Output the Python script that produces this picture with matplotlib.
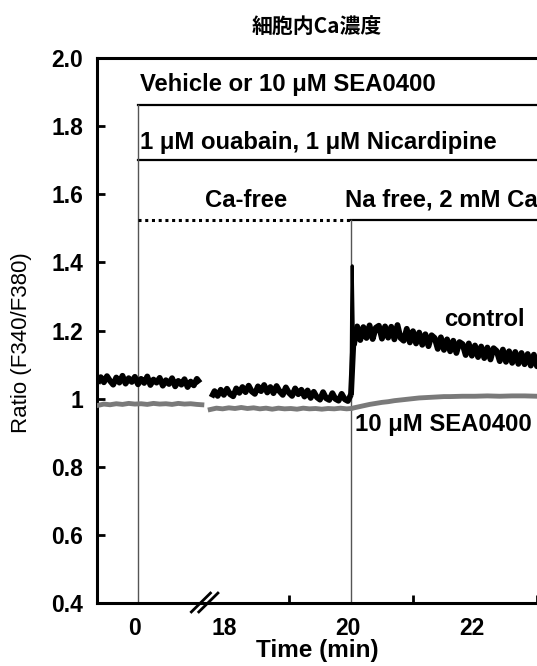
import numpy as np
import matplotlib
matplotlib.use("Agg")
import matplotlib.pyplot as plt
import matplotlib.transforms as mtransforms

plt.rcParams['font.family'] = ['Liberation Sans', 'DejaVu Sans']

# ---------------- data (real time, min) ----------------
# control trace, before the axis break (0.05 min sampling from -0.65)
ctrl_seg1 = [1.045, 1.063, 1.048, 1.066, 1.052, 1.041, 1.062, 1.047, 1.067, 1.044,
             1.060, 1.049, 1.064, 1.042, 1.058, 1.046, 1.065, 1.040, 1.056, 1.047,
             1.061, 1.038, 1.054, 1.043, 1.060, 1.036, 1.052, 1.041, 1.057, 1.034,
             1.050, 1.039, 1.058, 1.046]
t_seg1 = np.linspace(-0.65, 1.00, len(ctrl_seg1))

sea_t1 = [-0.65, -0.55, -0.45, -0.35, -0.25, -0.15, -0.05, 0.05, 0.15, 0.25,
          0.35, 0.45, 0.55, 0.65, 0.75, 0.85, 0.95, 1.03]
sea_seg1 = [0.980, 0.984, 0.982, 0.985, 0.983, 0.986, 0.984, 0.985, 0.983, 0.986,
            0.984, 0.985, 0.983, 0.986, 0.984, 0.985, 0.983, 0.982]

# control trace, 17.75 - 20.00 min
ctrl_seg2 = [1.004, 1.022, 1.008, 1.026, 1.011, 1.029, 1.013, 1.007, 1.030, 1.017,
             1.034, 1.019, 1.038, 1.021, 1.014, 1.036, 1.022, 1.040, 1.018, 1.034,
             1.016, 1.037, 1.021, 1.011, 1.033, 1.017, 1.008, 1.030, 1.013, 1.026,
             1.006, 1.024, 1.002, 1.020, 1.004, 0.997, 1.019, 1.001, 0.996, 1.016,
             0.999, 0.994, 1.014, 0.998, 0.993, 1.012]
t_seg2 = np.linspace(17.75, 20.00, len(ctrl_seg2))

sea_t2 = [17.73, 17.83, 17.93, 18.03, 18.13, 18.23, 18.33, 18.43, 18.53, 18.63,
          18.73, 18.83, 18.93, 19.03, 19.13, 19.23, 19.33, 19.43, 19.53, 19.63,
          19.73, 19.83, 19.93, 20.00]
sea_seg2 = [0.968, 0.972, 0.970, 0.973, 0.971, 0.974, 0.971, 0.973, 0.970, 0.972,
            0.969, 0.972, 0.970, 0.971, 0.969, 0.972, 0.970, 0.971, 0.969, 0.971,
            0.970, 0.972, 0.970, 0.971]

# transient spike on switching to Na-free solution
spike_t = [20.00, 20.01, 20.02, 20.03, 20.04]
spike_v = [1.010, 1.260, 1.390, 1.280, 1.170]

# control trace, 20.05 - 23.20 min
ctrl_seg3 = [1.160, 1.212, 1.172, 1.210, 1.178, 1.215, 1.175, 1.208, 1.214, 1.176,
             1.212, 1.179, 1.211, 1.174, 1.216, 1.178, 1.170, 1.205, 1.165, 1.198,
             1.162, 1.194, 1.158, 1.189, 1.154, 1.186, 1.178, 1.146, 1.180, 1.143,
             1.174, 1.139, 1.170, 1.134, 1.166, 1.160, 1.128, 1.162, 1.126, 1.156,
             1.122, 1.153, 1.119, 1.150, 1.115, 1.148, 1.140, 1.110, 1.144, 1.108,
             1.139, 1.105, 1.137, 1.102, 1.134, 1.101, 1.131, 1.097, 1.129, 1.095,
             1.126, 1.094, 1.124, 1.096]
t_seg3 = np.linspace(20.05, 23.20, len(ctrl_seg3))

sea_t3 = [20.01, 20.05, 20.10, 20.15, 20.20, 20.30, 20.40, 20.50, 20.60, 20.70,
          20.80, 20.90, 21.00, 21.10, 21.20, 21.30, 21.40, 21.50, 21.60, 21.80,
          22.00, 22.20, 22.40, 22.60, 22.80, 23.00, 23.20]
sea_seg3 = [0.971, 0.973, 0.975, 0.977, 0.979, 0.983, 0.986, 0.989, 0.991, 0.994,
            0.996, 0.998, 1.000, 1.002, 1.003, 1.004, 1.005, 1.006, 1.006, 1.007,
            1.007, 1.008, 1.007, 1.008, 1.008, 1.007, 1.008]

ytick_vals = [0.4, 0.6, 0.8, 1.0, 1.2, 1.4, 1.6, 1.8, 2.0]
ytick_labels = ['0.4', '0.6', '0.8', '1', '1.2', '1.4', '1.6', '1.8', '2.0']
xtick_times = [0, 18, 20, 22]
xtick_labels = ['0', '18', '20', '22']
xminor_times = [18, 19, 21, 22, 23]

OFFSET = 16.565  # broken-axis shift for times after the break


def to_plot(t):
    t = np.asarray(t, dtype=float)
    return np.where(t > 10, t - OFFSET, t)


fig = plt.figure(figsize=(5.37, 6.66), dpi=100)
ax = fig.add_axes([97 / 537, 63 / 666, 453 / 537, 545 / 666])
ax.set_xlim(-0.661, 6.645)
ax.set_ylim(0.4, 2.0)

gray = '#7a7a7a'
# SEA0400 trace (gray)
ax.plot(to_plot(sea_t1), sea_seg1, color=gray, lw=3.5, solid_joinstyle='round', zorder=3)
ax.plot(to_plot(sea_t2 + sea_t3), sea_seg2 + sea_seg3, color=gray, lw=3.5,
        solid_joinstyle='round', zorder=3)
# control trace (black)
kw = dict(color='black', lw=4.2, solid_joinstyle='round', solid_capstyle='butt', zorder=4)
ax.plot(to_plot(t_seg1), ctrl_seg1, **kw)
ax.plot(to_plot(t_seg2), ctrl_seg2, **kw)
ax.plot(to_plot(spike_t), spike_v, color='black', lw=2.2, zorder=4)
ax.plot(to_plot([spike_t[0], spike_t[-1]] + list(t_seg3)),
        [spike_v[0], spike_v[-1]] + ctrl_seg3, **kw)

# protocol annotations
y_top, y_mid, y_low = 1.862, 1.700, 1.524
x0, x20 = float(to_plot(0)), float(to_plot(20))
ax.plot([x0, 7.5], [y_top, y_top], color='black', lw=1.6, clip_on=False, zorder=2)
ax.plot([x0, 7.5], [y_mid, y_mid], color='black', lw=1.6, clip_on=False, zorder=2)
ax.plot([x0, x0], [y_top, 0.4], color='#555555', lw=1.0, zorder=2)
ax.plot([x0, x20], [y_low, y_low], color='black', lw=2.2, ls=(0, (1.0, 1.2)), zorder=2)
ax.plot([x20, 7.5], [y_low, y_low], color='black', lw=1.6, clip_on=False, zorder=2)
ax.plot([x20, x20], [y_low, 0.4], color='#555555', lw=1.0, zorder=2)

fs_ann = 17.2
ax.text(0.03, 1.921, 'Vehicle or 10 μM SEA0400', fontsize=fs_ann, fontweight='bold',
        va='center', ha='left', clip_on=False)
ax.text(0.03, 1.753, '1 μM ouabain, 1 μM Nicardipine', fontsize=fs_ann, fontweight='bold',
        va='center', ha='left', clip_on=False)
ax.text(1.74, 1.583, 'Ca-free', fontsize=fs_ann, fontweight='bold', va='center', ha='center')
ax.text(3.34, 1.583, 'Na free, 2 mM Ca', fontsize=fs_ann, fontweight='bold',
        va='center', ha='left', clip_on=False)
ax.text(4.935, 1.231, 'control', fontsize=fs_ann, fontweight='bold', va='center', ha='left')
ax.text(3.50, 0.925, '10 μM SEA0400', fontsize=fs_ann, fontweight='bold',
        va='center', ha='left')

# axis break marks
bx = float(to_plot(17.65))
for dx in (-0.05, 0.07):
    ax.plot([bx - 0.19 + dx, bx + 0.15 + dx], [0.371, 0.432], color='black', lw=2.0,
            clip_on=False, zorder=6, solid_capstyle='butt')

# spines
for s in ['left', 'bottom', 'top']:
    ax.spines[s].set_linewidth(2.2)
ax.spines['right'].set_visible(False)

ax.set_yticks(ytick_vals)
ax.set_yticklabels(ytick_labels, fontsize=16.5, fontweight='bold')
ax.tick_params(axis='y', direction='in', length=6, width=2, pad=10)

ax.set_xticks(to_plot(xtick_times))
ax.set_xticklabels(xtick_labels, fontsize=16.5, fontweight='bold')
ax.set_xticks(to_plot(xminor_times), minor=True)
ax.tick_params(axis='x', which='major', length=0, pad=10)
ax.tick_params(axis='x', which='minor', direction='in', length=6, width=2)
shift = mtransforms.ScaledTranslation(-3 / 100, 0, fig.dpi_scale_trans)
for lbl in ax.get_xticklabels():
    lbl.set_transform(lbl.get_transform() + shift)

fig.text(317 / 537, 1 - 651 / 666, 'Time (min)', fontsize=17.5, fontweight='bold',
         ha='center', va='center')
fig.text(22 / 537, 1 - 343 / 666, 'Ratio (F340/F380)', fontsize=16, rotation=90,
         ha='center', va='center')
fig.text(317 / 537, 1 - 27 / 666, '細胞内Ca濃度', fontsize=15, fontweight='bold',
         ha='center', va='center', family=['Noto Sans CJK JP', 'DejaVu Sans'])

fig.savefig('out.png', dpi=100)
